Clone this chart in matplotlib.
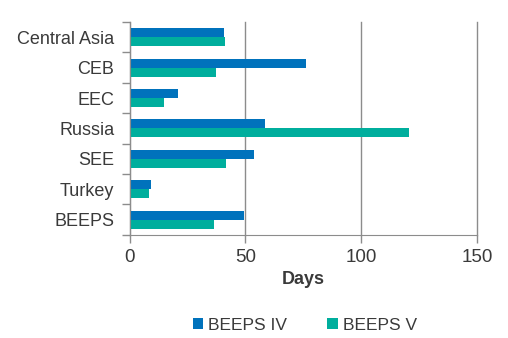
import matplotlib.pyplot as plt
import numpy as np

# data
regions = ['Central Asia', 'CEB', 'EEC', 'Russia', 'SEE', 'Turkey', 'BEEPS']
beeps_iv = [40.8, 76.2, 20.9, 58.5, 53.8, 9.3, 49.5]
beeps_v = [41.3, 37.4, 14.9, 120.7, 41.7, 8.4, 36.5]
xticks = [0, 50, 100, 150]

plt.rcParams['font.family'] = ['Liberation Sans', 'DejaVu Sans']
grey = '#8c8c8c'
txt = '#3a3a3a'

fig = plt.figure(figsize=(5.08, 3.38), dpi=100)
ax = fig.add_axes([0.255, 0.305, 0.684, 0.63])

y = np.arange(len(regions))
h = 0.296
ax.barh(y - h/2, beeps_iv, height=h, color='#0072BC', label='BEEPS IV')
ax.barh(y + h/2, beeps_v, height=h, color='#00AE9D', label='BEEPS V')

ax.set_xlim(0, 150)
ax.set_ylim(len(regions) - 0.5, -0.5)
ax.set_xticks(xticks)
ax.set_yticks(y)
ax.set_yticklabels(regions)
ax.set_yticks(np.arange(-0.5, len(regions), 1), minor=True)
ax.tick_params(axis='y', which='major', length=0, pad=11, labelsize=13, labelcolor=txt)
ax.tick_params(axis='y', which='minor', length=6, color=grey, width=1)
ax.tick_params(axis='x', length=6, color=grey, width=1, labelsize=13.5, labelcolor=txt, pad=4)

ax.xaxis.grid(True, color=grey, linewidth=1)
for gl in ax.get_xgridlines():
    gl.set_clip_on(False)
ax.set_axisbelow(True)
for s in ['top', 'right']:
    ax.spines[s].set_visible(False)
ax.spines['left'].set_color(grey)
ax.spines['bottom'].set_color(grey)

ax.set_xlabel('Days', fontsize=13, fontweight='bold', color=txt, labelpad=4)

fig.legend(loc='lower center', bbox_to_anchor=(0.6, -0.03), ncol=2, frameon=False,
           fontsize=12.5, handlelength=0.6, handleheight=0.6, columnspacing=2.3,
           handletextpad=0.3, labelcolor=txt)

fig.savefig('out.png', dpi=100)
